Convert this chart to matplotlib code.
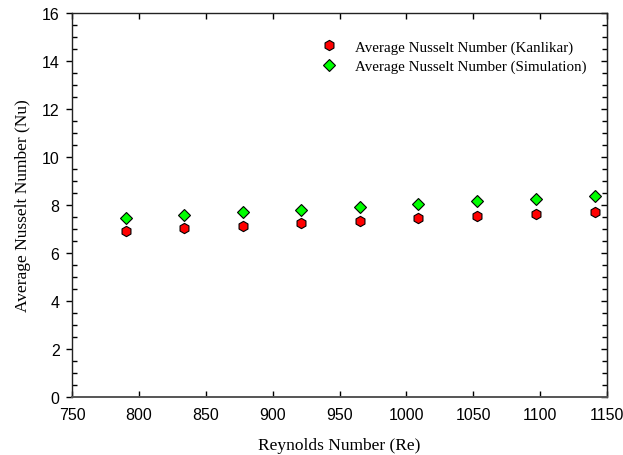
import matplotlib
matplotlib.use("Agg")
import matplotlib.pyplot as plt
from matplotlib.ticker import MultipleLocator

# Data
reynolds = [790, 834, 878, 921, 965, 1009, 1053, 1097, 1141]
nu_kanlikar = [6.93, 7.04, 7.14, 7.24, 7.35, 7.45, 7.54, 7.64, 7.72]
nu_simulation = [7.46, 7.58, 7.70, 7.80, 7.93, 8.04, 8.15, 8.26, 8.37]

serif = "Liberation Serif"
sans = "Liberation Sans"

fig = plt.figure(figsize=(6.23, 4.56), dpi=100)
ax = fig.add_axes([72 / 623, 1 - 398 / 456, 535 / 623, 384 / 456])

ax.plot(reynolds, nu_kanlikar, linestyle="none", marker="h", markersize=7.4,
        markerfacecolor="#ff0000", markeredgecolor="black", markeredgewidth=0.8,
        label="Average Nusselt Number (Kanlikar)")
ax.plot(reynolds, nu_simulation, linestyle="none", marker="D", markersize=5.8,
        markerfacecolor="#00ff00", markeredgecolor="black", markeredgewidth=0.8,
        label="Average Nusselt Number (Simulation)")

ax.set_xlim(750, 1150)
ax.set_ylim(0, 16)
ax.xaxis.set_major_locator(MultipleLocator(50))
ax.yaxis.set_major_locator(MultipleLocator(2))
ax.yaxis.set_minor_locator(MultipleLocator(0.5))

for s in ax.spines.values():
    s.set_linewidth(1.0)
    s.set_color("#222222")
ax.spines["bottom"].set_color("#555555")
ax.spines["bottom"].set_linewidth(1.4)

# x: major ticks inward on top and bottom
ax.tick_params(axis="x", which="major", direction="in", top=True, length=4.5, width=1,
               labelsize=11.5, pad=7)
# y left: major outward, minor inward
ax.tick_params(axis="y", which="major", direction="out", length=4, width=1,
               labelsize=11.5, pad=5)
ax.tick_params(axis="y", which="minor", direction="in", length=3.5, width=1)
for lab in ax.get_xticklabels() + ax.get_yticklabels():
    lab.set_fontfamily(sans)

# right side: all ticks inward, no labels
right = ax.secondary_yaxis("right")
right.yaxis.set_major_locator(MultipleLocator(2))
right.yaxis.set_minor_locator(MultipleLocator(0.5))
right.tick_params(which="major", direction="in", length=4.5, width=1, labelright=False)
right.tick_params(which="minor", direction="in", length=3.5, width=1)
right.spines["right"].set_color("#222222")

ax.set_xlabel("Reynolds Number (Re)", fontfamily=serif, fontsize=12.5, labelpad=11)
ax.set_ylabel("Average Nusselt Number (Nu)", fontfamily=serif, fontsize=12.5, labelpad=8)

ax.legend(loc="upper left", bbox_to_anchor=(0.4667, 0.93), frameon=False,
          prop={"family": serif, "size": 10.8}, borderpad=0, borderaxespad=0,
          handlelength=1.0, handletextpad=1.25, labelspacing=0.4)

fig.savefig("out.png", dpi=100)
